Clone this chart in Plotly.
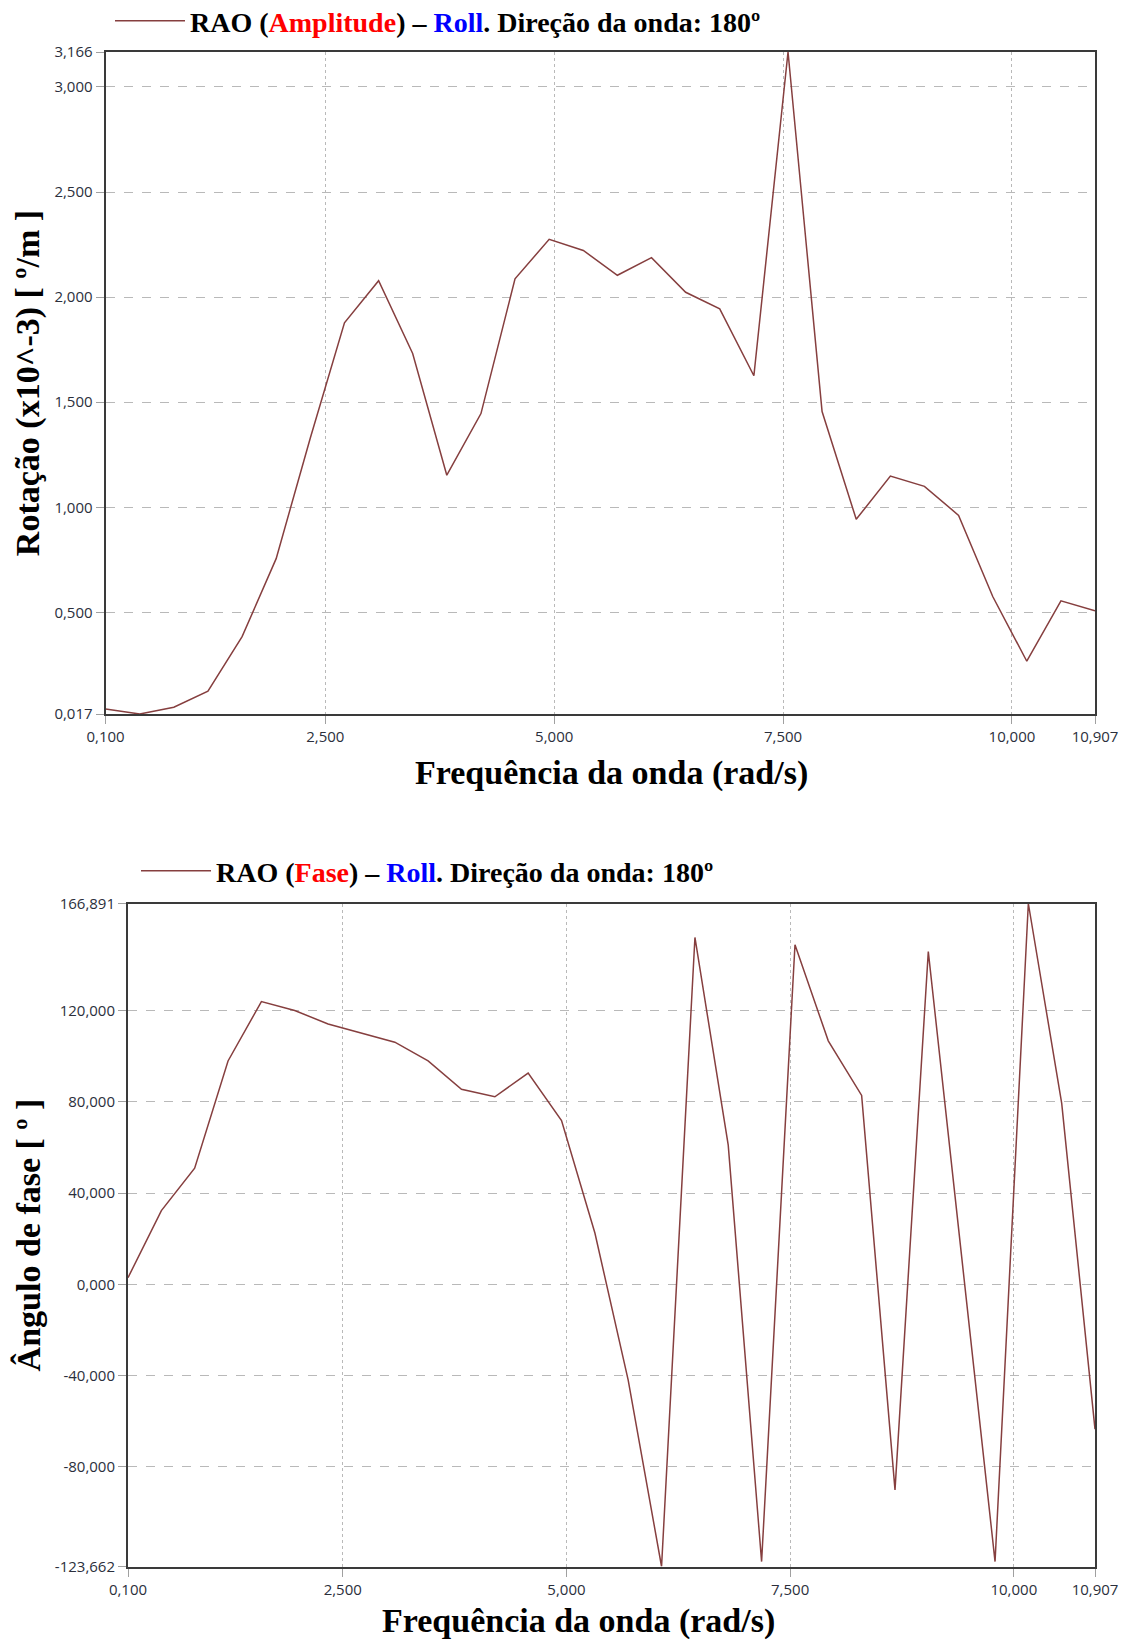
import plotly.graph_objects as go

# Wave frequency grid (rad/s), 30 evenly spaced samples from 0.100 to 10.907
freq = [0.100, 0.473, 0.845, 1.218, 1.591, 1.963, 2.336, 2.709, 3.082, 3.454,
        3.827, 4.200, 4.572, 4.945, 5.318, 5.690, 6.063, 6.436, 6.808, 7.181,
        7.554, 7.926, 8.299, 8.672, 9.044, 9.417, 9.790, 10.162, 10.535, 10.907]

# Roll RAO amplitude (x10^-3 deg/m)
roll_amp = [0.041, 0.017, 0.049, 0.126, 0.385, 0.756, 1.330, 1.878, 2.078, 1.732,
            1.153, 1.446, 2.087, 2.275, 2.222, 2.104, 2.188, 2.023, 1.944, 1.626,
            3.166, 1.456, 0.943, 1.149, 1.100, 0.962, 0.576, 0.268, 0.555, 0.508]

# Roll RAO phase (deg)
roll_phase = [2.9, 32.3, 50.9, 97.9, 123.9, 120.0, 114.1, 110.2, 106.1, 97.9,
              85.5, 82.2, 92.6, 71.8, 22.5, -42.0, -123.662, 152.0, 61.0, -121.5,
              148.8, 106.7, 82.8, -90.1, 145.8, 12.0, -121.5, 166.891, 79.3, -63.5]

freq_ticks = [0.1, 2.5, 5.0, 7.5, 10.0, 10.907]
amp_ticks = [0.017, 0.5, 1.0, 1.5, 2.0, 2.5, 3.0, 3.166]
phase_ticks = [-123.662, -80.0, -40.0, 0.0, 40.0, 80.0, 120.0, 166.891]

x_title = "Frequência da onda (rad/s)"


def fmt(v):
    # decimal comma, three decimals
    return f"{v:.3f}".replace(".", ",")


LINE_COLOR = "#863f3f"
FRAME_COLOR = "#3a3a3a"
GRID_COLOR = "#b9b9b9"
TICK_FONT = dict(family="Open Sans", size=15, color="#2b2f3c")
TITLE_FONT = dict(family="Liberation Serif", size=34, color="#000000")
LEGEND_FONT = dict(family="Liberation Serif", size=28, color="#000000")

fig = go.Figure()

fig.add_trace(go.Scatter(
    x=freq, y=roll_amp, mode="lines",
    line=dict(color=LINE_COLOR, width=1.5),
    name='<b>RAO (<span style="color:#ff0000">Amplitude</span>) – '
         '<span style="color:#0000ff">Roll</span>. Direção da onda: 180º</b>',
    xaxis="x", yaxis="y", legend="legend",
))

fig.add_trace(go.Scatter(
    x=freq, y=roll_phase, mode="lines",
    line=dict(color=LINE_COLOR, width=1.5),
    name='<b>RAO (<span style="color:#ff0000">Fase</span>) – '
         '<span style="color:#0000ff">Roll</span>. Direção da onda: 180º</b>',
    xaxis="x2", yaxis="y2", legend="legend2",
))

W, H = 1126, 1643


def axis_common():
    return dict(
        showline=True, mirror=True, linecolor=FRAME_COLOR, linewidth=2,
        ticks="outside", ticklen=8, tickcolor="#a0a0a0", tickwidth=1,
        showgrid=True, gridcolor=GRID_COLOR, gridwidth=1,
        zeroline=False, tickfont=TICK_FONT, title_font=TITLE_FONT,
        automargin=False,
    )


xr = [min(freq), max(freq)]

fig.update_layout(
    template="none",
    width=W, height=H,
    margin=dict(l=0, r=0, t=0, b=0, pad=0, autoexpand=False),
    paper_bgcolor="white", plot_bgcolor="white",
    showlegend=True,
    xaxis=dict(
        axis_common(), domain=[105.6 / W, 1095 / W], anchor="y",
        range=xr, tickmode="array", tickvals=freq_ticks,
        ticktext=[fmt(v) for v in freq_ticks], griddash="dot",
    ),
    yaxis=dict(
        axis_common(), domain=[1 - 714 / H, 1 - 52 / H], anchor="x",
        range=[min(roll_amp), max(roll_amp)], tickmode="array",
        tickvals=amp_ticks, ticktext=[fmt(v) for v in amp_ticks], griddash="dash",
        title=dict(text="<b>Rotação (x10^-3) [ º/m ]</b>", standoff=4),
    ),
    xaxis2=dict(
        axis_common(), domain=[128 / W, 1095 / W], anchor="y2",
        range=xr, tickmode="array", tickvals=freq_ticks,
        ticktext=[fmt(v) for v in freq_ticks], griddash="dot",
    ),
    yaxis2=dict(
        axis_common(), domain=[1 - 1566.5 / H, 1 - 903.5 / H], anchor="x2",
        range=[min(roll_phase), max(roll_phase)], tickmode="array",
        tickvals=phase_ticks, ticktext=[fmt(v) for v in phase_ticks], griddash="dash",
        title=dict(text="<b>Ângulo de fase [ º ]</b>", standoff=4),
    ),
    legend=dict(
        x=110 / W, y=1 - 21 / H, xanchor="left", yanchor="middle",
        font=LEGEND_FONT, bgcolor="rgba(0,0,0,0)", borderwidth=0,
        itemwidth=70,
    ),
    legend2=dict(
        x=136 / W, y=1 - 871 / H, xanchor="left", yanchor="middle",
        font=LEGEND_FONT, bgcolor="rgba(0,0,0,0)", borderwidth=0,
        itemwidth=70,
    ),
    annotations=[
        dict(text=f"<b>{x_title}</b>", xref="paper", yref="paper",
             x=611 / W, y=1 - 773 / H, xanchor="center", yanchor="middle",
             showarrow=False, font=TITLE_FONT),
        dict(text=f"<b>{x_title}</b>", xref="paper", yref="paper",
             x=578 / W, y=1 - 1621 / H, xanchor="center", yanchor="middle",
             showarrow=False, font=TITLE_FONT),
    ],
)

fig.write_html("out.html")
